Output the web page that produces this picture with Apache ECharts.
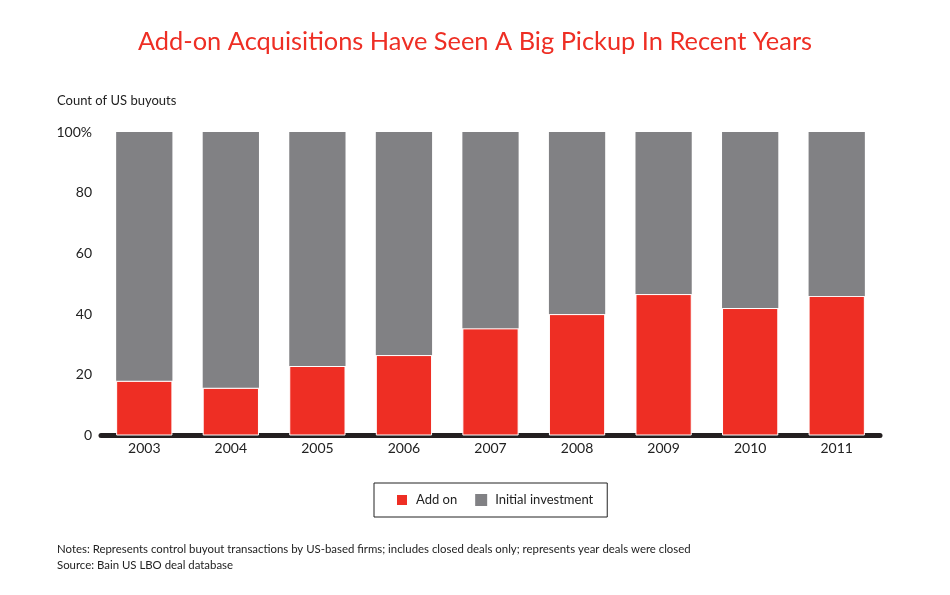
<!DOCTYPE html>
<html>
<head>
<meta charset="utf-8">
<script src="https://cdn.jsdelivr.net/npm/echarts@6/dist/echarts.min.js"></script>
<style>html,body{margin:0;padding:0;background:#fff;}#c{width:950px;height:595px;}</style>
</head>
<body>
<div id="c"></div>
<script>
const years = ['2003','2004','2005','2006','2007','2008','2009','2010','2011'];
const addOn = [18, 15.7, 22.9, 26.5, 35.3, 40, 46.6, 42, 46];
const initialInvestment = addOn.map(v => +(100 - v).toFixed(1));
const yTicks = [0, 20, 40, 60, 80, 100];

const chart = echarts.init(document.getElementById('c'));
const FONT = 'Lato';
chart.setOption({
  animation: false,
  backgroundColor: '#fff',
  title: {
    text: 'Add-on Acquisitions Have Seen A Big Pickup In Recent Years',
    left: 'center', top: 24,
    textStyle: { color: '#ee2e24', fontSize: 25.4, fontWeight: 'normal', fontFamily: FONT }
  },
  graphic: [
    { type: 'text', left: 57, top: 94, style: { text: 'Count of US buyouts', fill: '#222', font: '13px ' + FONT } },
    { type: 'text', left: 57, top: 544, style: { text: 'Notes: Represents control buyout transactions by US-based firms; includes closed deals only; represents year deals were closed', fill: '#222', font: '11.4px ' + FONT } },
    { type: 'text', left: 57, top: 560, style: { text: 'Source: Bain US LBO deal database', fill: '#222', font: '11.4px ' + FONT } }
  ],
  legend: {
    left: 374, top: 483,
    padding: [10, 14, 10, 21],
    itemWidth: 12, itemHeight: 12, itemGap: 18,
    borderColor: '#222', borderWidth: 1,
    icon: 'rect',
    textStyle: { color: '#222', fontSize: 13, fontFamily: FONT, padding: [0, 0, 0, 3] },
    data: ['Add on', 'Initial investment']
  },
  grid: { left: 101, right: 70, top: 132, bottom: 159.5 },
  xAxis: {
    type: 'category', data: years,
    axisLine: { lineStyle: { color: '#231f20', width: 5 } },
    axisTick: { show: false },
    axisLabel: { color: '#222', fontSize: 14, fontFamily: FONT, margin: 6 }
  },
  yAxis: {
    type: 'value', min: 0, max: 100, interval: 20,
    axisLine: { show: false }, axisTick: { show: false }, splitLine: { show: false },
    axisLabel: { color: '#222', fontSize: 14, fontFamily: FONT, margin: 9,
      formatter: v => v === 100 ? '100%' : String(v) }
  },
  series: [
    { name: 'Add on', type: 'bar', stack: 's', data: addOn, barCategoryGap: '35%',
      itemStyle: { color: '#ee2e24', borderColor: '#fff', borderWidth: 1 } },
    { name: 'Initial investment', type: 'bar', stack: 's', data: initialInvestment,
      itemStyle: { color: '#818184' } }
  ]
});
</script>
</body>
</html>
